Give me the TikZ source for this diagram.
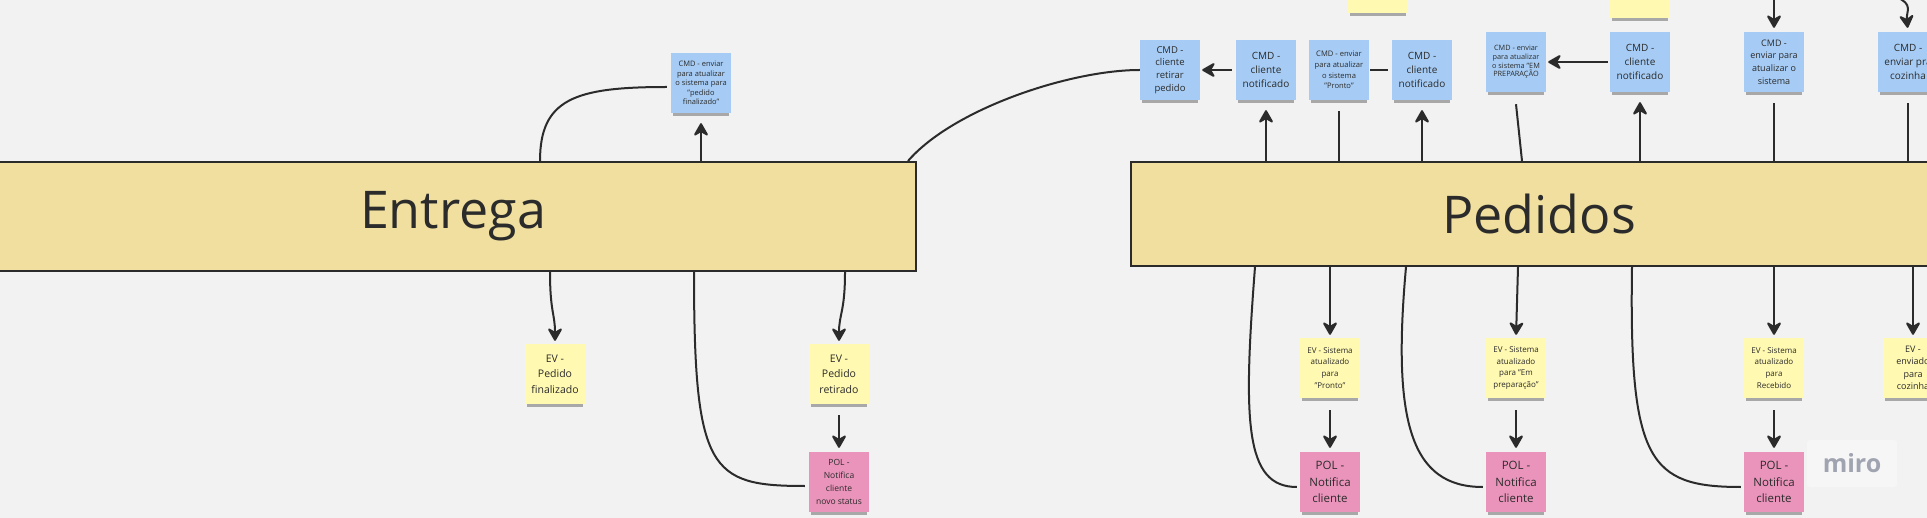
\documentclass[tikz,border=0pt]{standalone}
\usepackage{fontspec}
\setmainfont{Open Sans}
\usepackage{tikz}
\usetikzlibrary{shapes, arrows.meta, shadows, calc, positioning}

\definecolor{bg}{RGB}{242,242,242}
\definecolor{ink}{RGB}{43,43,43}
\definecolor{barfill}{RGB}{240,223,158}
\definecolor{cmdblue}{RGB}{166,204,245}
\definecolor{evyellow}{RGB}{255,249,177}
\definecolor{polpink}{RGB}{234,148,187}
\definecolor{mirogray}{RGB}{160,164,176}

\newcommand{\fsz}[2]{\fontsize{#1}{#2}\selectfont}

\tikzstyle{sticky} = [
  rectangle, minimum width = 60, minimum height = 60,
  inner sep = 0, align = center, text = ink,
  general shadow = {fill = black, opacity = 0.3, shadow scale = 0.92,
    shadow yshift = -6pt}
]
\tikzstyle{cmd} = [sticky, fill = cmdblue]
\tikzstyle{ev} = [sticky, fill = evyellow]
\tikzstyle{pol} = [sticky, fill = polpink]
\tikzstyle{bar} = [rectangle, draw = ink, line width = 2, fill = barfill,
  text = ink, font = \fsz{52}{60}]
\tikzstyle{link} = [draw = ink, line width = 2]
\tikzstyle{flow} = [link, -{Stealth[length = 15pt, width = 17pt, inset = 5pt, round]}]

\begin{document}
\begin{tikzpicture}[x = 1pt, y = -1pt, node distance = 0]
      \path [use as bounding box, fill = bg] (0, 0) rectangle (1927, 518);
      \clip (0, 0) rectangle (1927, 518);

      % bars
      \node [bar, minimum width = 926, minimum height = 109] (ent) at (453, 216.5) {Entrega};
      \node [bar, minimum width = 816, minimum height = 104] (ped) at (1539, 214) {Pedidos};

      % entrega
      \node [cmd, font = \fsz{7.5}{9.5}] (cmd-fin) at (701, 83)
        {CMD - enviar\\para atualizar\\o sistema para\\"pedido\\finalizado"};
      \node [ev, font = \fsz{10.5}{15.5}] (ev-fin) at (555, 374) {EV -\\Pedido\\finalizado};
      \node [ev, font = \fsz{10.5}{15.5}, right of = ev-fin, xshift = 284] (ev-ret) {EV -\\Pedido\\retirado};
      \node [pol, font = \fsz{8.5}{12.7}, below of = ev-ret, yshift = -108] (pol-ret)
        {POL -\\Notifica\\cliente\\novo status};

      % pedidos 0
      \node [cmd, font = \fsz{10}{13.7}] (cmd-not-a) at (1266, 70) {CMD -\\cliente\\notificado};
      \node [cmd, font = \fsz{9.5}{12.7}, left of = cmd-not-a, xshift = -96] (cmd-ret)
        {CMD -\\cliente\\retirar\\pedido};
      \node [cmd, font = \fsz{7.6}{10.8}, right of = cmd-not-a, xshift = 73] (cmd-pronto)
        {CMD - enviar\\para atualizar\\o sistema\\"Pronto"};
      \node [cmd, font = \fsz{10}{13.7}, right of = cmd-pronto, xshift = 83] (cmd-not-b) {CMD -\\cliente\\notificado};
      \node [cmd, font = \fsz{7.3}{8.8}] (cmd-prep) at (1516, 62)
        {CMD - enviar\\para atualizar\\o sistema "EM\\PREPARAÇÃO};
      \node [cmd, font = \fsz{10}{13.7}, right of = cmd-prep, xshift = 124] (cmd-not-c) {CMD -\\cliente\\notificado};
      \node [cmd, font = \fsz{9}{12.7}, right of = cmd-not-c, xshift = 134] (cmd-sis)
        {CMD -\\enviar para\\atualizar o\\sistema};
      \node [cmd, font = \fsz{10}{14}, right of = cmd-sis, xshift = 134] (cmd-coz) {CMD -\\enviar pra\\cozinha};
      \node [ev] (ev-top-a) at (1378, -17) {};
      \node [ev] (ev-top-b) at (1640, -12) {};

      % pedidos 1
      \node [ev, font = \fsz{8}{11.8}] (ev-pronto) at (1330, 368) {EV - Sistema\\atualizado\\para\\"Pronto"};
      \node [ev, font = \fsz{8}{11.8}, right of = ev-pronto, xshift = 186] (ev-prep)
        {EV - Sistema\\atualizado\\para "Em\\preparação"};
      \node [ev, font = \fsz{8}{11.8}, right of = ev-prep, xshift = 258] (ev-rec)
        {EV - Sistema\\atualizado\\para\\Recebido};
      \node [ev, font = \fsz{9}{12.4}, right of = ev-rec, xshift = 139] (ev-coz) {EV -\\enviado\\para\\cozinha};
      \node [pol, font = \fsz{11.5}{16.5}, below of = ev-pronto, yshift = -114] (pol-a) {POL -\\Notifica\\cliente};
      \node [pol, font = \fsz{11.5}{16.5}, below of = ev-prep, yshift = -114] (pol-b) {POL -\\Notifica\\cliente};
      \node [pol, font = \fsz{11.5}{16.5}, below of = ev-rec, yshift = -114] (pol-c) {POL -\\Notifica\\cliente};

      \node [rectangle, rounded corners = 3, fill = white, fill opacity = 0.35, text opacity = 1,
        text = mirogray, minimum width = 90, minimum height = 47, font = \fsz{25}{25}\bfseries] (miro)
        at (1852, 463.5) {miro};

      % entrega links
      \draw [link] ($(ent.north west) + (551, 0)$) .. controls +(0, -62) and +(-92, 0) ..
        ($(cmd-fin.west) + (-4, 4)$);
      \draw [flow, shorten > = 10pt] (cmd-fin |- ent.north) -- (cmd-fin.south);
      \draw [flow, shorten > = 3pt] ($(ev-fin |- ent.south) + (-5, 0)$) .. controls +(0, 40) and +(0, -30) ..
        (ev-fin.north);
      \draw [flow, shorten > = 3pt] ($(ev-ret |- ent.south) + (6, 0)$) .. controls +(0, 40) and +(0, -30) ..
        (ev-ret.north);
      \draw [flow, shorten < = 11pt, shorten > = 4pt] (ev-ret.south) -- (pol-ret.north);
      \draw [link] ($(ent.south west) + (705, 0)$) .. controls +(0, 199) and +(-95, 0) ..
        ($(pol-ret.west) + (-4, 4)$);
      \draw [link] ($(ent.north east) + (-9, 0)$) .. controls +(45, -52) and +(-70, 0) .. (cmd-ret.west);

      % pedidos links up
      \draw [flow, shorten < = 4pt, shorten > = 2pt] (cmd-not-a.west) -- (cmd-ret.east);
      \draw [link, shorten < = 1pt, shorten > = 4pt] (cmd-pronto.east) -- (cmd-not-b.west);
      \draw [flow, shorten < = 2pt, shorten > = 2pt] (cmd-not-c.west) -- (cmd-not-c.west -| cmd-prep.east);
      \draw [flow, shorten > = 10pt] (cmd-not-a |- ped.north) -- (cmd-not-a.south);
      \draw [link, shorten > = 11pt] (cmd-pronto |- ped.north) -- (cmd-pronto.south);
      \draw [flow, shorten > = 10pt] (cmd-not-b |- ped.north) -- (cmd-not-b.south);
      \draw [link] ($(cmd-prep |- ped.north) + (6, 0)$) -- ($(cmd-prep.south) + (0, 12)$);
      \draw [flow, shorten > = 10pt] (cmd-not-c |- ped.north) -- (cmd-not-c.south);
      \draw [link, shorten > = 11pt] (cmd-sis |- ped.north) -- (cmd-sis.south);
      \draw [link, shorten > = 11pt] (cmd-coz |- ped.north) -- (cmd-coz.south);
      \coordinate (top-sis) at (1774, -2);
      \coordinate (top-coz) at (1896, -3);
      \draw [flow, shorten > = 4pt] (top-sis) -- (cmd-sis.north);
      \draw [flow, shorten > = 4pt] (top-coz) .. controls +(18, 7) and +(-2, -20) .. (cmd-coz.north);

      % pedidos links down
      \draw [link] ($(ped.south west) + (125, 0)$) .. controls +(-12, 155) and +(-52, 0) ..
        ($(pol-a.west) + (-3, 5)$);
      \draw [flow, shorten > = 3pt] (ev-pronto |- ped.south) -- (ev-pronto.north);
      \draw [flow, shorten < = 12pt, shorten > = 4pt] (ev-pronto.south) -- (pol-a.north);
      \draw [link] ($(ped.south west) + (276, 0)$) .. controls +(-14, 155) and +(-72, 0) ..
        ($(pol-b.west) + (-3, 5)$);
      \draw [flow, shorten > = 3pt] ($(ev-prep |- ped.south) + (2, 0)$) -- (ev-prep.north);
      \draw [flow, shorten < = 12pt, shorten > = 4pt] (ev-prep.south) -- (pol-b.north);
      \draw [link] ($(ped.south west) + (502, 0)$) .. controls +(-3, 194) and +(-92, 0) ..
        ($(pol-c.west) + (-3, 5)$);
      \draw [flow, shorten > = 3pt] (ev-rec |- ped.south) -- (ev-rec.north);
      \draw [flow, shorten < = 12pt, shorten > = 4pt] (ev-rec.south) -- (pol-c.north);
      \draw [flow, shorten > = 3pt] (ev-coz |- ped.south) -- (ev-coz.north);
    \end{tikzpicture}
\end{document}
